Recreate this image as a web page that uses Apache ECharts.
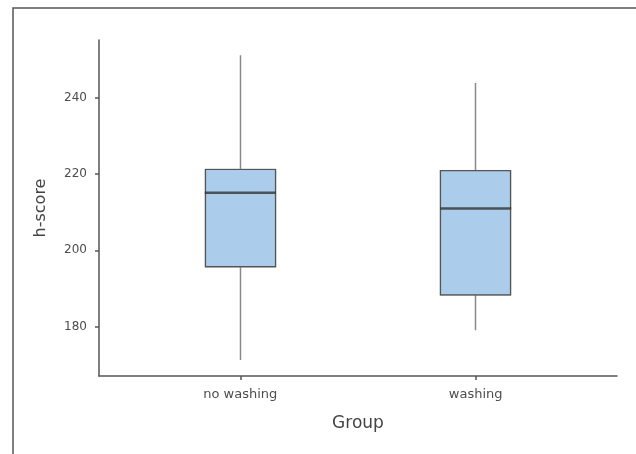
<!DOCTYPE html>
<html>
<head>
<meta charset="utf-8">
<script src="https://cdn.jsdelivr.net/npm/echarts@6/dist/echarts.min.js"></script>
<style>
html,body{margin:0;padding:0;background:#fff;}
#c{width:636px;height:454px;}
</style>
</head>
<body>
<div id="c"></div>
<script>
// ---- data ----
var categories = ['no washing', 'washing'];
var whiskerLow = [171.2, 179.0];
var q1 = [195.7, 188.3];
var median = [215.1, 211.0];
var q3 = [221.2, 220.9];
var whiskerHigh = [251.2, 243.9];
var yTicks = [180, 200, 220, 240];
var xTicks = categories.map(function (c, i) { return i + 1; });

// ---- build series data ----
var whiskerData = categories.map(function (c, i) { return [i + 1, q1[i], q3[i], whiskerLow[i], whiskerHigh[i]]; });
var boxData = categories.map(function (c, i) { return [i + 1, q1[i], q3[i], q1[i], q3[i]]; });
var medianData = categories.map(function (c, i) { return [i + 1, median[i]]; });

var chart = echarts.init(document.getElementById('c'), null, {renderer: 'canvas'});
var font = '"DejaVu Sans", "Liberation Sans", Arial, sans-serif';
var BOXW = 71;
chart.setOption({
  animation: false,
  backgroundColor: '#ffffff',
  grid: {left: 99, right: 19, top: 40, bottom: 78, containLabel: false},
  xAxis: {
    type: 'value', min: 0.4, max: 2.6,
    name: 'Group', nameLocation: 'middle', nameGap: 39,
    nameTextStyle: {fontFamily: font, fontSize: 17, color: '#444'},
    splitLine: {show: false},
    axisLine: {show: true, lineStyle: {color: '#555', width: 1.5}},
    axisTick: {show: true, length: 4, customValues: xTicks, lineStyle: {color: '#555', width: 1.5}},
    axisLabel: {customValues: xTicks, margin: 12, fontFamily: font, fontSize: 13, color: '#4d4d4d',
      formatter: function (v) { var i = Math.round(v) - 1; return categories[i] || ''; }}
  },
  yAxis: {
    type: 'value', min: 167.0, max: 255.2,
    name: 'h-score', nameLocation: 'middle', nameGap: 50, nameRotate: 90,
    nameTextStyle: {fontFamily: font, fontSize: 16, color: '#444'},
    splitLine: {show: false},
    axisLine: {show: true, lineStyle: {color: '#555', width: 1.5}},
    axisTick: {show: true, length: 4, customValues: yTicks, lineStyle: {color: '#555', width: 1.5}},
    axisLabel: {customValues: yTicks, margin: 12, fontFamily: font, fontSize: 12, color: '#4d4d4d'}
  },
  series: [
    {
      type: 'candlestick', barWidth: BOXW,
      encode: {x: 0, y: [1, 2, 3, 4]},
      data: whiskerData,
      itemStyle: {color: '#abcdeb', color0: '#abcdeb', borderColor: '#8a8a8a', borderColor0: '#8a8a8a', borderWidth: 1.5}
    },
    {
      type: 'candlestick', barWidth: BOXW,
      encode: {x: 0, y: [1, 2, 3, 4]},
      data: boxData,
      itemStyle: {color: '#abcdeb', color0: '#abcdeb', borderColor: '#555', borderColor0: '#555', borderWidth: 1.2}
    },
    {
      type: 'scatter', symbol: 'rect', symbolSize: [BOXW, 2.5],
      data: medianData,
      itemStyle: {color: '#333'}
    }
  ],
  graphic: [
    {type: 'polyline', shape: {points: [[13, 454], [13, 8], [636, 8]]}, style: {stroke: '#555', lineWidth: 1.5, fill: null}, silent: true}
  ]
});
</script>
</body>
</html>
